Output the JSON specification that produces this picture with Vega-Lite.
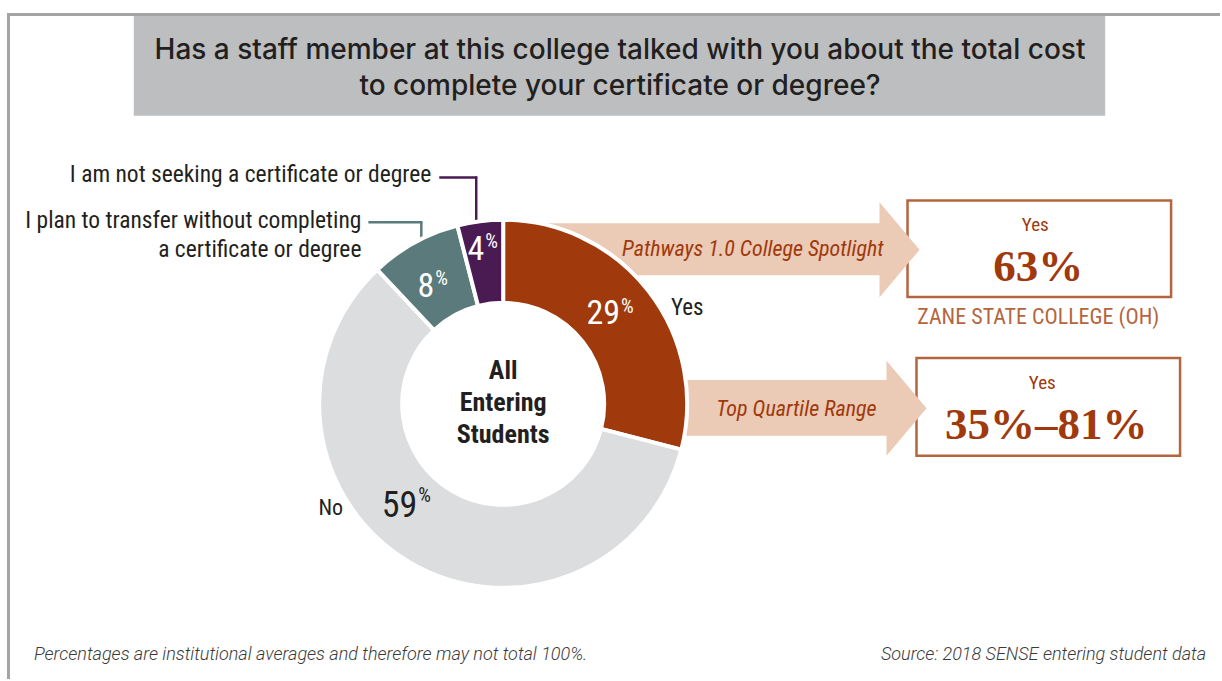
{
 "$schema": "https://vega.github.io/schema/vega-lite/v6.json",
 "width": 1222, "height": 681,
 "autosize": {"type": "fit", "contains": "padding"},
 "padding": 0,
 "background": "white",
 "config": {
  "view": {"stroke": null},
  "axis": {"disable": true},
  "legend": {"disable": true},
  "text": {"font": "Roboto Condensed, Liberation Sans Narrow, DejaVu Sans Condensed, Roboto, sans-serif", "baseline": "middle", "color": "#231f20"}
 },
 "data": {"values": [
  {"category": "Yes", "value": 29, "ord": 1},
  {"category": "No", "value": 59, "ord": 2},
  {"category": "I plan to transfer without completing a certificate or degree", "value": 8, "ord": 3},
  {"category": "I am not seeking a certificate or degree", "value": 4, "ord": 4}
 ]},
 "layer": [
  {"data": {"values": [{}]}, "mark": {"type": "rect", "fill": "#bcbec0"},
   "encoding": {"x": {"datum": 134, "type": "quantitative", "scale": {"domain": [0, 1222], "nice": false, "zero": false}}, "x2": {"datum": 1107},
    "y": {"datum": 16, "type": "quantitative", "scale": {"domain": [0, 681], "nice": false, "zero": false, "reverse": true}}, "y2": {"datum": 116}}},
  {"data": {"values": [{}]}, "mark": {"type": "rule", "color": "#a3a4a6", "strokeWidth": 3},
   "encoding": {"x": {"datum": 7}, "x2": {"datum": 1222}, "y": {"datum": 14.5}}},
  {"data": {"values": [{}]}, "mark": {"type": "rule", "color": "#a3a4a6", "strokeWidth": 3},
   "encoding": {"x": {"datum": 8.5}, "y": {"datum": 13}, "y2": {"datum": 681}}},
  {"data": {"values": [{}]}, "mark": {"type": "text", "text": "Has a staff member at this college talked with you about the total cost", "font": "Inter, Liberation Sans, Arial, sans-serif", "fontSize": 28, "fontWeight": 500, "align": "center"},
   "encoding": {"x": {"datum": 621}, "y": {"datum": 51}}},
  {"data": {"values": [{}]}, "mark": {"type": "text", "text": "to complete your certificate or degree?", "font": "Inter, Liberation Sans, Arial, sans-serif", "fontSize": 28, "fontWeight": 500, "align": "center"},
   "encoding": {"x": {"datum": 621}, "y": {"datum": 87}}},

  {"data": {"values": [{}]}, "mark": {"type": "rect", "fill": "white", "stroke": "#b5653e", "strokeWidth": 2.5},
   "encoding": {"x": {"datum": 909}, "x2": {"datum": 1173}, "y": {"datum": 201}, "y2": {"datum": 298}}},
  {"data": {"values": [{}]}, "mark": {"type": "rect", "fill": "white", "stroke": "#b5653e", "strokeWidth": 2.5},
   "encoding": {"x": {"datum": 918}, "x2": {"datum": 1182}, "y": {"datum": 359}, "y2": {"datum": 457}}},

  {"data": {"values": [{}]}, "mark": {"type": "rect", "fill": "#ebcab6"},
   "encoding": {"x": {"datum": 505}, "x2": {"datum": 882}, "y": {"datum": 224}, "y2": {"datum": 276}}},
  {"data": {"values": [{}]}, "mark": {"type": "point", "shape": "M-0.421,-1L0.421,0L-0.421,1Z", "filled": true, "fill": "#ebcab6", "opacity": 1, "size": 9025, "strokeWidth": 0},
   "encoding": {"x": {"datum": 901}, "y": {"datum": 250.5}}},
  {"data": {"values": [{}]}, "mark": {"type": "rect", "fill": "#ebcab6"},
   "encoding": {"x": {"datum": 645}, "x2": {"datum": 889}, "y": {"datum": 381}, "y2": {"datum": 437}}},
  {"data": {"values": [{}]}, "mark": {"type": "point", "shape": "M-0.421,-1L0.421,0L-0.421,1Z", "filled": true, "fill": "#ebcab6", "opacity": 1, "size": 9025, "strokeWidth": 0},
   "encoding": {"x": {"datum": 908}, "y": {"datum": 409.5}}},

  {"data": {"values": [{}]}, "mark": {"type": "rule", "color": "#4a1a53", "strokeWidth": 2.5},
   "encoding": {"x": {"datum": 440}, "x2": {"datum": 478}, "y": {"datum": 178}}},
  {"data": {"values": [{}]}, "mark": {"type": "rule", "color": "#4a1a53", "strokeWidth": 2.5},
   "encoding": {"x": {"datum": 477}, "y": {"datum": 177}, "y2": {"datum": 232}}},
  {"data": {"values": [{}]}, "mark": {"type": "rule", "color": "#5b7a7b", "strokeWidth": 2.5},
   "encoding": {"x": {"datum": 369}, "x2": {"datum": 423}, "y": {"datum": 223}}},
  {"data": {"values": [{}]}, "mark": {"type": "rule", "color": "#5b7a7b", "strokeWidth": 2.5},
   "encoding": {"x": {"datum": 422}, "y": {"datum": 222}, "y2": {"datum": 248}}},

  {"mark": {"type": "arc", "innerRadius": 101, "outerRadius": 184, "stroke": "white", "strokeWidth": 4},
   "encoding": {"x": {"datum": 504}, "y": {"datum": 405},
    "theta": {"field": "value", "type": "quantitative", "stack": true},
    "order": {"field": "ord", "type": "quantitative"},
    "color": {"field": "category", "type": "nominal", "scale": {"domain": ["Yes", "No", "I plan to transfer without completing a certificate or degree", "I am not seeking a certificate or degree"], "range": ["#a0390c", "#dcdddf", "#5b7a7b", "#4a1a53"]}}}},

  {"transform": [{"filter": "datum.category === 'Yes'"}], "mark": {"type": "text", "fontSize": 34, "color": "white", "align": "right"},
   "encoding": {"x": {"datum": 621}, "y": {"datum": 315}, "text": {"field": "value"}}},
  {"data": {"values": [{}]}, "mark": {"type": "text", "text": "%", "fontSize": 20, "color": "white", "align": "left"},
   "encoding": {"x": {"datum": 622}, "y": {"datum": 308}}},
  {"transform": [{"filter": "datum.category === 'No'"}], "mark": {"type": "text", "fontSize": 36, "align": "right"},
   "encoding": {"x": {"datum": 418}, "y": {"datum": 507}, "text": {"field": "value"}}},
  {"data": {"values": [{}]}, "mark": {"type": "text", "text": "%", "fontSize": 20, "align": "left"},
   "encoding": {"x": {"datum": 419}, "y": {"datum": 497}}},
  {"transform": [{"filter": "datum.value === 8"}], "mark": {"type": "text", "fontSize": 34, "color": "white", "align": "right"},
   "encoding": {"x": {"datum": 435}, "y": {"datum": 288}, "text": {"field": "value"}}},
  {"data": {"values": [{}]}, "mark": {"type": "text", "text": "%", "fontSize": 20, "color": "white", "align": "left"},
   "encoding": {"x": {"datum": 436}, "y": {"datum": 280}}},
  {"transform": [{"filter": "datum.value === 4"}], "mark": {"type": "text", "fontSize": 34, "color": "white", "align": "right"},
   "encoding": {"x": {"datum": 485}, "y": {"datum": 251}, "text": {"field": "value"}}},
  {"data": {"values": [{}]}, "mark": {"type": "text", "text": "%", "fontSize": 20, "color": "white", "align": "left"},
   "encoding": {"x": {"datum": 486}, "y": {"datum": 243}}},

  {"transform": [{"filter": "datum.category === 'Yes'"}], "mark": {"type": "text", "fontSize": 23, "align": "left"},
   "encoding": {"x": {"datum": 672}, "y": {"datum": 309}, "text": {"field": "category"}}},
  {"transform": [{"filter": "datum.category === 'No'"}], "mark": {"type": "text", "fontSize": 22, "align": "left"},
   "encoding": {"x": {"datum": 319}, "y": {"datum": 509}, "text": {"field": "category"}}},

  {"data": {"values": [{}]}, "mark": {"type": "text", "text": "All", "fontSize": 26, "fontWeight": "bold", "align": "center"},
   "encoding": {"x": {"datum": 504}, "y": {"datum": 372}}},
  {"data": {"values": [{}]}, "mark": {"type": "text", "text": "Entering", "fontSize": 26, "fontWeight": "bold", "align": "center"},
   "encoding": {"x": {"datum": 504}, "y": {"datum": 404}}},
  {"data": {"values": [{}]}, "mark": {"type": "text", "text": "Students", "fontSize": 26, "fontWeight": "bold", "align": "center"},
   "encoding": {"x": {"datum": 504}, "y": {"datum": 436}}},

  {"transform": [{"filter": "datum.value === 4"}], "mark": {"type": "text", "fontSize": 23.5, "align": "right"},
   "encoding": {"x": {"datum": 432}, "y": {"datum": 176}, "text": {"field": "category"}}},
  {"data": {"values": [{}]}, "mark": {"type": "text", "text": "I plan to transfer without completing", "fontSize": 23.5, "align": "right"},
   "encoding": {"x": {"datum": 362}, "y": {"datum": 222}}},
  {"data": {"values": [{}]}, "mark": {"type": "text", "text": "a certificate or degree", "fontSize": 23.5, "align": "right"},
   "encoding": {"x": {"datum": 362}, "y": {"datum": 251}}},

  {"data": {"values": [{}]}, "mark": {"type": "text", "text": "Pathways 1.0 College Spotlight", "fontSize": 22, "fontStyle": "italic", "color": "#a0390c", "align": "right"},
   "encoding": {"x": {"datum": 885}, "y": {"datum": 250}}},
  {"data": {"values": [{}]}, "mark": {"type": "text", "text": "Top Quartile Range", "fontSize": 22, "fontStyle": "italic", "color": "#a0390c", "align": "right"},
   "encoding": {"x": {"datum": 878}, "y": {"datum": 410}}},

  {"data": {"values": [{}]}, "mark": {"type": "text", "text": "Yes", "fontSize": 19, "color": "#a0390c", "align": "center"},
   "encoding": {"x": {"datum": 1037}, "y": {"datum": 226}}},
  {"data": {"values": [{}]}, "mark": {"type": "text", "text": "63%", "font": "Liberation Serif, Times New Roman, serif", "fontSize": 45, "fontWeight": "bold", "color": "#a0390c", "align": "center"},
   "encoding": {"x": {"datum": 1040}, "y": {"datum": 268}}},
  {"data": {"values": [{}]}, "mark": {"type": "text", "text": "ZANE STATE COLLEGE (OH)", "fontSize": 22, "color": "#b5653e", "align": "center"},
   "encoding": {"x": {"datum": 1040}, "y": {"datum": 318}}},
  {"data": {"values": [{}]}, "mark": {"type": "text", "text": "Yes", "fontSize": 19, "color": "#a0390c", "align": "center"},
   "encoding": {"x": {"datum": 1044}, "y": {"datum": 384}}},
  {"data": {"values": [{}]}, "mark": {"type": "text", "text": "35%–81%", "font": "Liberation Serif, Times New Roman, serif", "fontSize": 45, "fontWeight": "bold", "color": "#a0390c", "align": "center"},
   "encoding": {"x": {"datum": 1048}, "y": {"datum": 426}}},

  {"data": {"values": [{}]}, "mark": {"type": "text", "text": "Percentages are institutional averages and therefore may not total 100%.", "font": "Roboto, sans-serif", "fontWeight": 300, "fontSize": 18, "fontStyle": "italic", "color": "#3a3a3c", "align": "left"},
   "encoding": {"x": {"datum": 34}, "y": {"datum": 657}}},
  {"data": {"values": [{}]}, "mark": {"type": "text", "text": "Source: 2018 SENSE entering student data", "font": "Roboto, sans-serif", "fontWeight": 300, "fontSize": 18, "fontStyle": "italic", "color": "#3a3a3c", "align": "right"},
   "encoding": {"x": {"datum": 1208}, "y": {"datum": 657}}}
 ]
}
